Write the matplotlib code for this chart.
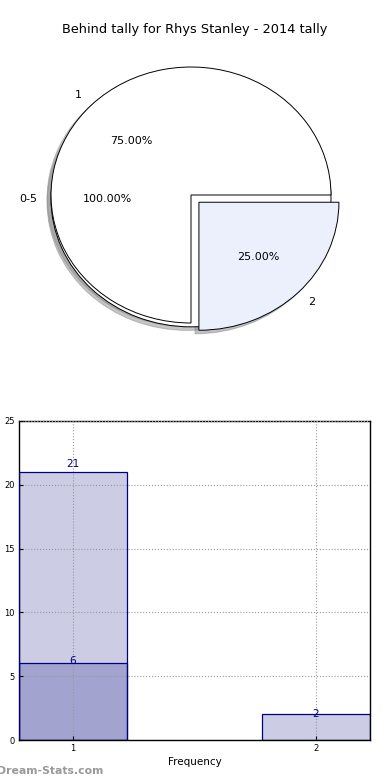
import matplotlib
matplotlib.use("Agg")
import matplotlib.pyplot as plt

title = "Behind tally for Rhys Stanley - 2014 tally"

# pie data
outer_labels = ["0-5"]
outer_values = [1]
inner_labels = ["1", "2"]
inner_values = [3, 1]
inner_colors = ["#ffffff", "#ebf0fc"]

# bar data
freq = [1, 2]
counts = [21, 2]
overlay_freq = [1]
overlay_counts = [6]
y_ticks = [0, 5, 10, 15, 20, 25]

navy = "#000080"

fig = plt.figure(figsize=(3.9, 7.8), dpi=100)
fig.text(0.5, 1 - 30 / 780, title, ha="center", va="center", fontsize=9.3)

# --- pie ---
ax1 = fig.add_axes([16 / 390, 1 - 355 / 780, 350 / 390, 320 / 780])
wp = dict(edgecolor="black", linewidth=0.7)
shadow = dict(ox=-0.02, oy=-0.02, shade=0.45)
ax1.pie(outer_values, labels=outer_labels, autopct="%.2f%%", startangle=0,
        colors=["#ffffff"], shadow=shadow, wedgeprops=wp, center=(0, -0.03),
        textprops=dict(fontsize=8), labeldistance=1.1, pctdistance=0.6)
ax1.pie(inner_values, labels=inner_labels, autopct="%.2f%%", startangle=0,
        colors=inner_colors, explode=[0, 0.08], shadow=shadow, wedgeprops=wp,
        textprops=dict(fontsize=8), labeldistance=1.1, pctdistance=0.6)
ax1.set_aspect("auto")
ax1.set_xlim(-1.25, 1.25)
ax1.set_ylim(-1.25, 1.25)
ax1.axis("off")

# --- bars ---
ax2 = fig.add_axes([19 / 390, 1 - 740 / 780, 351 / 390, 319 / 780])
w = 0.444
ax2.bar(freq, counts, width=w, color=navy, alpha=0.2, zorder=2)
ax2.bar(freq, counts, width=w, fill=False, edgecolor=navy, linewidth=0.9, zorder=3)
ax2.bar(overlay_freq, overlay_counts, width=w, color=navy, alpha=0.2, zorder=2)
ax2.bar(overlay_freq, overlay_counts, width=w, fill=False, edgecolor=navy, linewidth=0.9, zorder=3)
for x, h in list(zip(freq, counts)) + list(zip(overlay_freq, overlay_counts)):
    ax2.text(x, h * 1.03, str(h), ha="center", va="center", color=navy, fontsize=7.5, zorder=4)

ax2.set_xlim(freq[0] - w / 2, freq[-1] + w / 2)
ax2.set_ylim(y_ticks[0], y_ticks[-1])
ax2.set_xticks(freq)
ax2.set_yticks(y_ticks)
ax2.tick_params(labelsize=6, direction="in", length=3, pad=3)
ax2.grid(True, linestyle=":", color="#999999", linewidth=0.8, zorder=1)
ax2.set_axisbelow(False)
ax2.set_xlabel("Frequency", fontsize=7.5, labelpad=3)
ax2.set_ylabel("Occurrences", fontsize=7.5, labelpad=6)
for s in ax2.spines.values():
    s.set_linewidth(1.0)

fig.text(-3 / 390, 1 - 771 / 780, "Dream-Stats.com", ha="left", va="center",
         fontsize=7.8, color="#999999", fontweight="bold")

fig.savefig("out.png", dpi=100)
